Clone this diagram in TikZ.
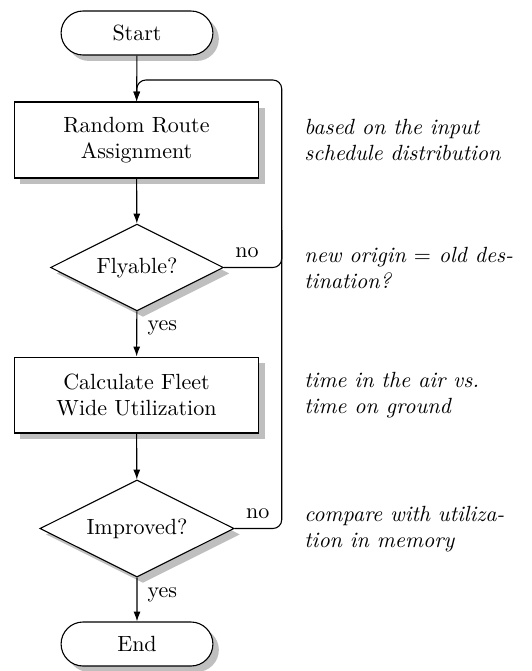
\documentclass[tikz,border=0pt]{standalone}
\usetikzlibrary{shapes.geometric,shapes.misc,shadows,arrows.meta,calc}
\begin{document}
\begin{tikzpicture}[x=0.4545pt,y=-0.4545pt,
  base/.style={draw, line width=0.5pt, fill=white,
    drop shadow={shadow xshift=2.7pt, shadow yshift=-2.7pt, fill=black!25, opacity=1},
    align=center, inner sep=0pt},
  term/.style={base, rounded rectangle, minimum width=69pt, minimum height=20pt},
  proc/.style={base, rectangle, minimum width=111pt, minimum height=34.5pt},
  dec/.style={base, diamond, aspect=2},
  note/.style={font=\itshape, align=left, anchor=west, inner sep=0pt},
  conn/.style={line width=0.5pt, -{Latex[length=4.5pt,width=3.2pt]}},
  plain/.style={line width=0.5pt},
  lbl/.style={inner sep=0pt}]
\useasboundingbox (0,0) rectangle (531,671);

\node[term] (start) at (137,33) {Start};
\node[proc] (rra) at (136.5,140) {Random Route\\Assignment};
\node[dec, minimum width=78.6pt, minimum height=39.5pt] (fly) at (137,267.5) {Flyable?};
\node[proc] (cfw) at (136.5,395) {Calculate Fleet\\Wide Utilization};
\node[dec, minimum width=88.2pt, minimum height=44.1pt] (imp) at (137,528.5) {Improved?};
\node[term] (end) at (137,644) {End};

\node[note] (n1) at (304,140) {based on the input\\schedule distribution};
\node[note] (n2) at (304,268) {new origin $=$ old des-\\tination?};
\node[note] (n3) at (304,395) {time in the air vs.\\time on ground};
\node[note] (n4) at (304,529) {compare with utiliza-\\tion in memory};

\coordinate (flyr) at (281.7,267.5);
\coordinate (topr) at (281.7,80);
\coordinate (topl) at (137,80);
\coordinate (impr) at (281.7,528.5);
\coordinate (join) at (281.7,230);

\draw[conn] (start) -- (rra);
\draw[conn] (rra) -- (fly);
\draw[conn] (fly) -- (cfw)
  node[lbl, pos=0, anchor=north west, xshift=4.6pt, yshift=-4.1pt] {yes};
\draw[conn] (cfw) -- (imp);
\draw[conn] (imp) -- (end)
  node[lbl, pos=0, anchor=north west, xshift=4.6pt, yshift=-4.1pt] {yes};

\draw[conn, rounded corners=4pt] (fly.east) -- (flyr) -- (topr) -- (topl) -- (rra.north);
\path (fly.east) -- (flyr)
  node[lbl, pos=0, anchor=south west, xshift=5pt, yshift=4.1pt] {no};
\draw[plain, rounded corners=4pt] (imp.east) -- (impr) -- (join);
\path (imp.east) -- (impr)
  node[lbl, pos=0, anchor=south west, xshift=5pt, yshift=4.1pt] {no};
\end{tikzpicture}
\end{document}
